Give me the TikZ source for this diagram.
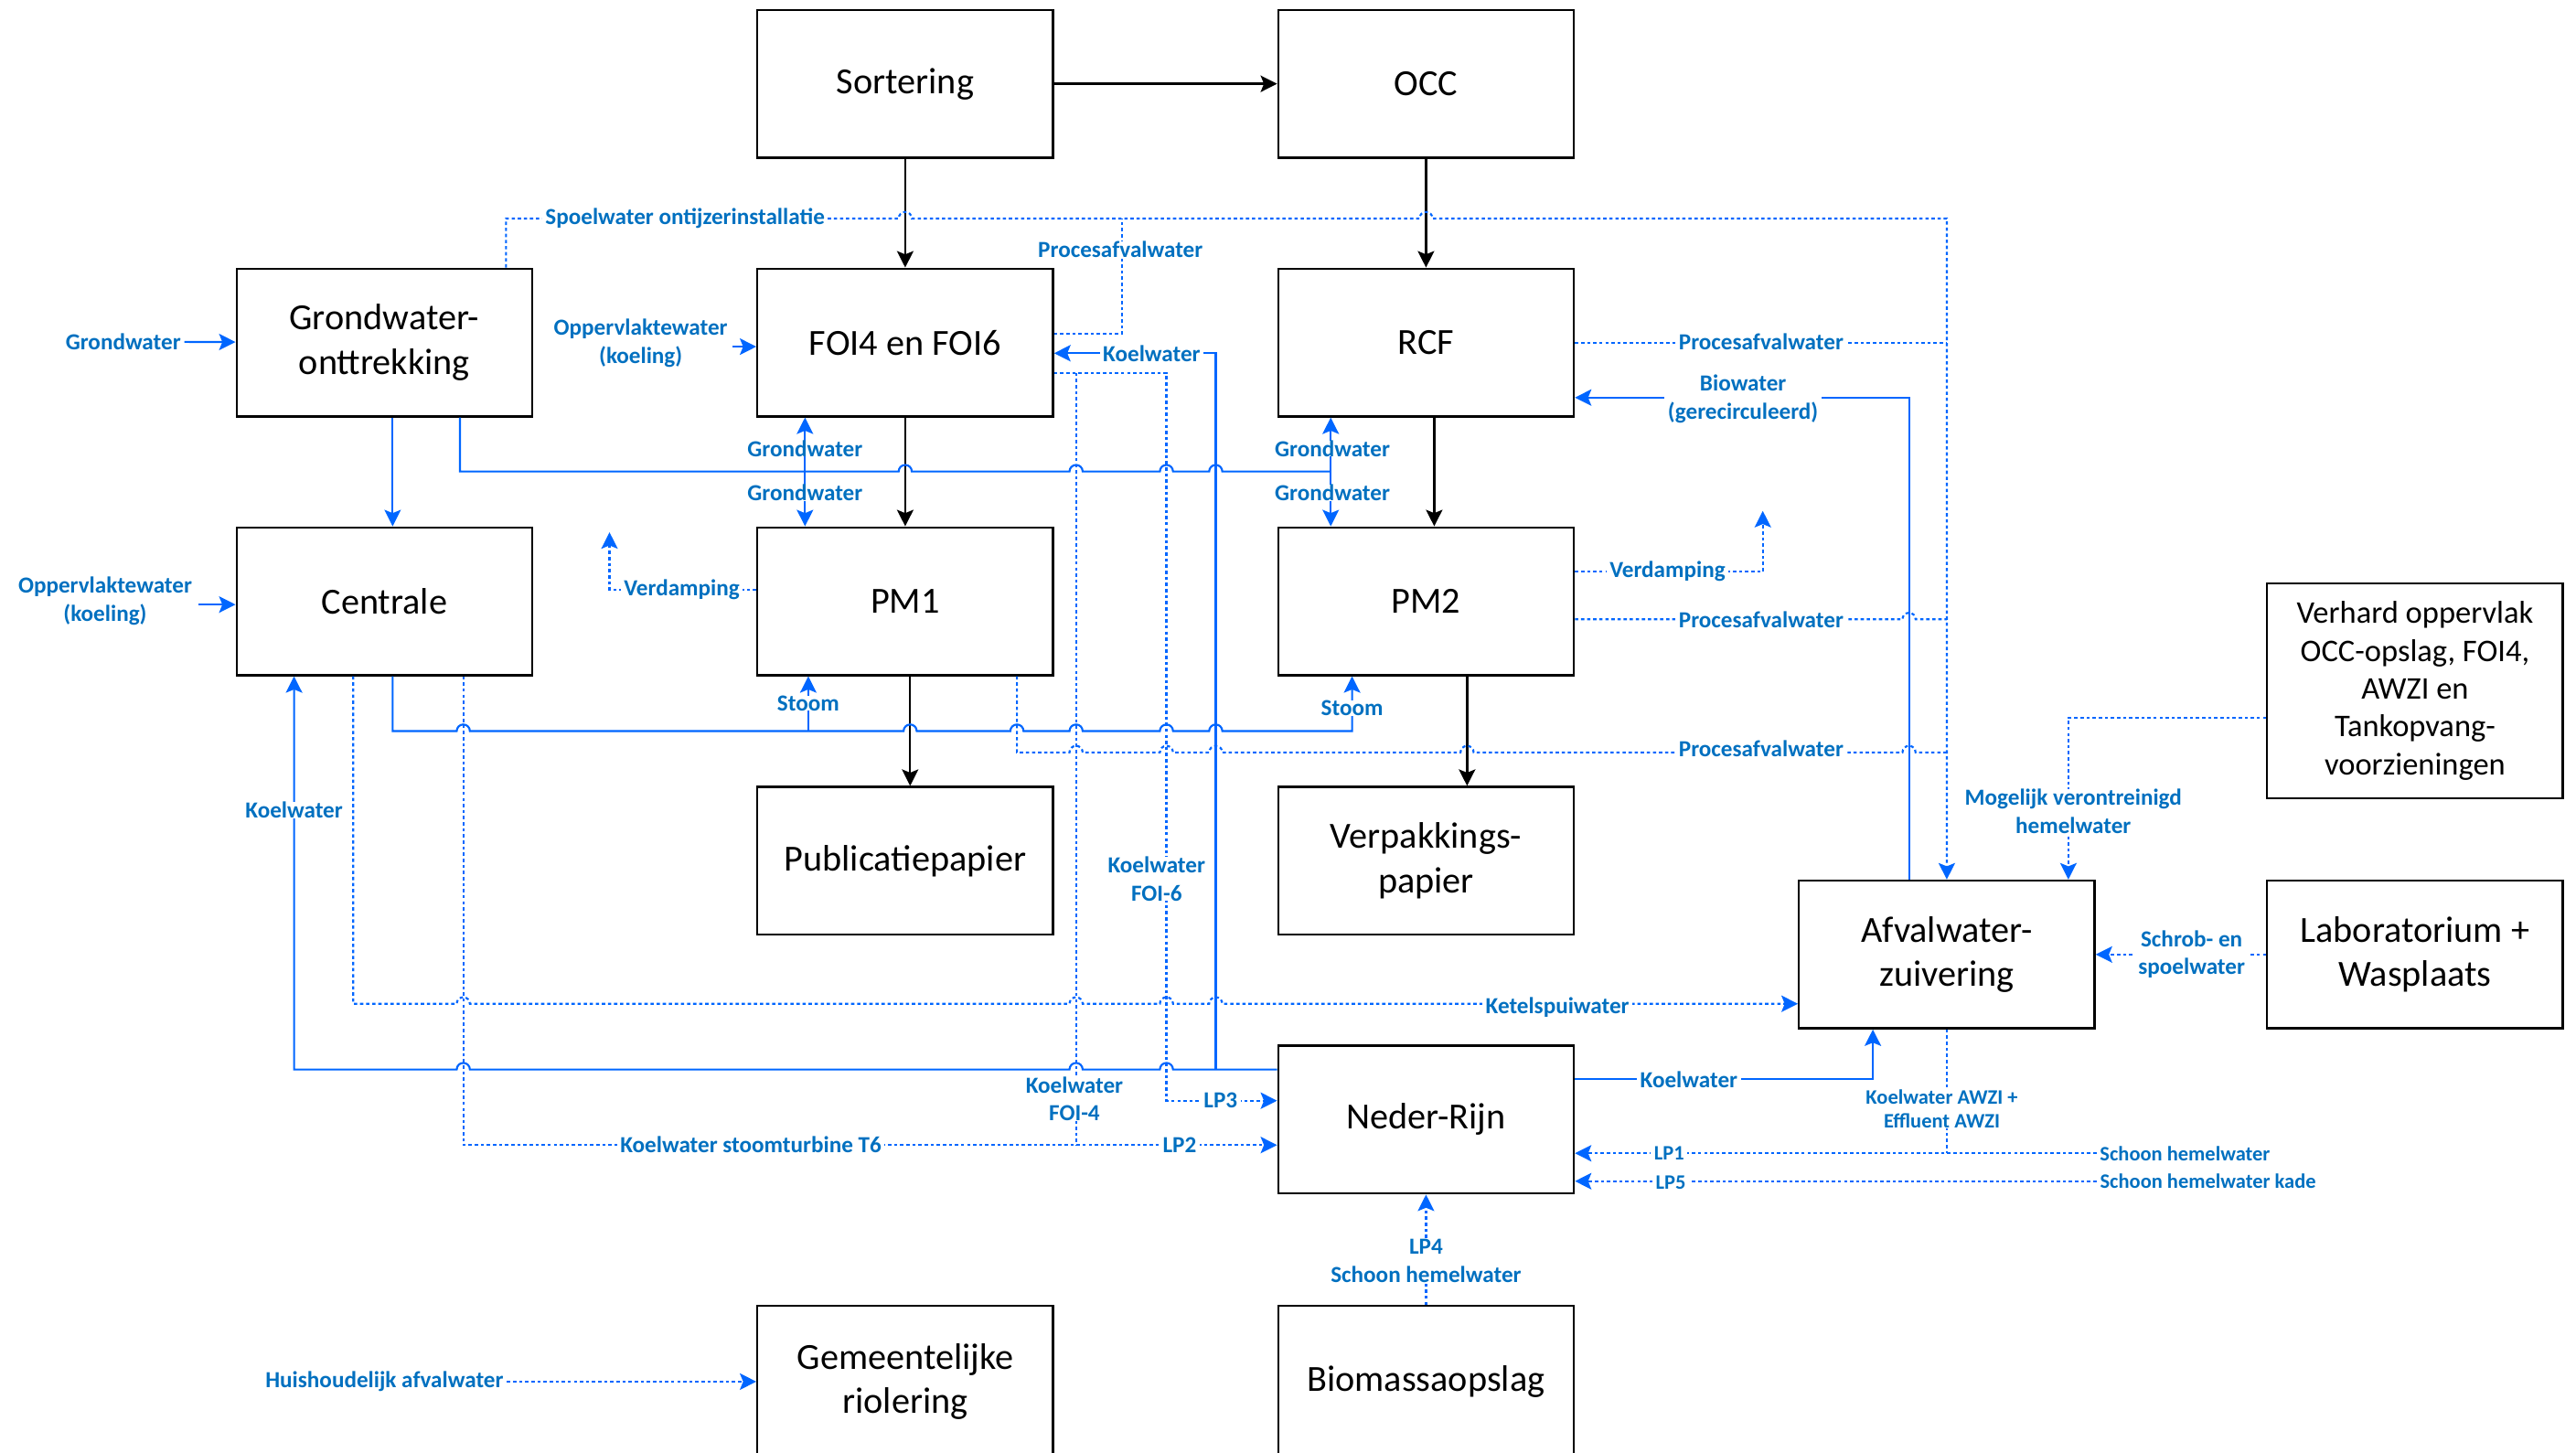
\documentclass[tikz,border=0pt]{standalone}
\usepackage{fontspec}
\setmainfont{Carlito}
\usetikzlibrary{arrows.meta}
\definecolor{lblue}{RGB}{0,102,255}
\definecolor{tblue}{RGB}{0,112,192}
\newcommand{\hr}[2]{-- (#1-4,#2) arc[start angle=180,end angle=0,radius=4pt]}
\newcommand{\hl}[2]{-- (#1+4,#2) arc[start angle=0,end angle=180,radius=4pt]}
\begin{document}
\begin{tikzpicture}[x=1pt,y=-1pt,
  box/.style={draw=black,line width=1.3pt,minimum width=180pt,minimum height=90pt,inner sep=0pt,align=center,font=\fontsize{22.4}{27}\selectfont},
  blk/.style={draw=black,line width=1.3pt,-{Stealth[length=10pt,width=10pt,inset=2pt]}},
  bl/.style={draw=lblue,line width=1.2pt},
  dt/.style={draw=lblue,line width=1.2pt,dash pattern=on 2pt off 1.7pt},
  arr/.style={-{Stealth[length=10pt,width=10pt,inset=2pt]}},
  lbl/.style={text=tblue,font=\bfseries\fontsize{14}{17}\selectfont,fill=white,inner xsep=2pt,inner ysep=0pt,align=center},
  slbl/.style={lbl,font=\bfseries\fontsize{12.5}{15}\selectfont}]
\useasboundingbox (0,0) rectangle (1568,884);

% boxes
\node[box] (sort) at (551,51) {Sortering};
\node[box] (occ) at (868,51) {OCC};
\node[box] (gwo) at (234,208.5) {Grondwater-\\onttrekking};
\node[box] (foi) at (551,208.5) {FOI4 en FOI6};
\node[box] (rcf) at (868,208.5) {RCF};
\node[box] (cen) at (234,366) {Centrale};
\node[box] (pm1) at (551,366) {PM1};
\node[box] (pm2) at (868,366) {PM2};
\node[box] (pub) at (551,524) {Publicatiepapier};
\node[box] (verp) at (868,524) {Verpakkings-\\papier};
\node[box,minimum height=131pt,font=\fontsize{19.2}{23}\selectfont] (verh) at (1470,420.5) {Verhard oppervlak\\OCC-opslag, FOI4,\\AWZI en\\Tankopvang-\\voorzieningen};
\node[box] (awzi) at (1185,581) {Afvalwater-\\zuivering};
\node[box] (lab) at (1470,581) {Laboratorium +\\Wasplaats};
\node[box] (nr) at (868,681.5) {Neder-Rijn};
\node[box,minimum height=92pt] (gem) at (551,841) {Gemeentelijke\\riolering};
\node[box,minimum height=92pt] (bio) at (868,841) {Biomassaopslag};

% black flows
\draw[blk] (sort) -- (occ);
\draw[blk] (sort) -- (foi);
\draw[blk] (occ) -- (rcf);
\draw[blk] (foi) -- (pm1);
\draw[blk] ([xshift=5pt]rcf.south) -- ([xshift=5pt]pm2.north);
\draw[blk] ([xshift=3pt]pm1.south) -- ([xshift=3pt]pub.north);
\draw[blk] ([xshift=25pt]pm2.south) -- ([xshift=25pt]verp.north);

% outside labels with arrows
\node[lbl] (lgw) at (75,208) {Grondwater};
\draw[bl,arr] (lgw) -- (gwo);
\node[lbl] (ok1) at (390,209) {Oppervlaktewater\\(koeling)};
\coordinate (ok1s) at (446,211);
\draw[bl,arr] (ok1s) -- ([yshift=-2.5pt]foi.west);
\node[lbl] (ok2) at (64,366) {Oppervlaktewater\\(koeling)};
\coordinate (ok2s) at (121,368);
\draw[bl,arr] (ok2s) -- ([yshift=-2pt]cen.west);
\node[lbl] (hh) at (234,841) {Huishoudelijk afvalwater};
\draw[dt,arr] (hh) -- (gem);
\node[slbl] (sh1) at (1330,702) {Schoon hemelwater};
\draw[dt,arr] (sh1.west) -- ([yshift=-20.5pt]nr.east);
\node[slbl] (sh5) at (1344,719) {Schoon hemelwater kade};
\draw[dt,arr] (sh5.west) -- ([yshift=-37.5pt]nr.east);

% groundwater distribution
\draw[bl,arr] ([xshift=5pt]gwo.south) -- ([xshift=5pt]cen.north);
\coordinate (g1) at (490,287);
\coordinate (g2) at (810,287);
\draw[bl] ([xshift=46pt]gwo.south) -- (280,287) \hr{551}{287}\hr{655}{287}\hr{710}{287}\hr{740}{287} -- (g2);
\draw[bl,arr] (g1) -- ([xshift=-61pt]foi.south);
\draw[bl,arr] (g1) -- ([xshift=-61pt]pm1.north);
\draw[bl,arr] (g2) -- ([xshift=-58pt]rcf.south);
\draw[bl,arr] (g2) -- ([xshift=-58pt]pm2.north);

% steam
\coordinate (s1) at (492,445);
\draw[bl,arr] ([xshift=5pt]cen.south) -- (239,445) \hr{282}{445}\hr{554}{445}\hr{619}{445}\hr{655}{445}\hr{710}{445}\hr{740}{445} -- (823,445) -- ([xshift=-45pt]pm2.south);
\draw[bl,arr] (s1) -- ([xshift=-59pt]pm1.south);

% cooling water from Neder-Rijn
\coordinate (kj) at (740,651);
\draw[bl,arr] ([yshift=30.5pt]nr.west) \hl{710}{651}\hl{655}{651}\hl{282}{651} -- (179,651) -- ([xshift=-55pt]cen.south);
\draw[bl,arr] (kj) -- (740,215) -- ([yshift=-6.5pt]foi.east);

% FOI cooling water return
\draw[dt,arr] ([yshift=-18.5pt]foi.east) -- (710,227) -- (710,670) -- ([yshift=11.5pt]nr.west);
\draw[dt] (655,227) -- (655,697);

% Centrale T6
\draw[dt,arr] ([xshift=48pt]cen.south) -- (282,697) -- ([yshift=-15.5pt]nr.west);

% Ketelspuiwater
\draw[dt,arr] ([xshift=-19pt]cen.south) -- (215,611) \hr{282}{611}\hr{655}{611}\hr{710}{611}\hr{740}{611} -- ([yshift=-30pt]awzi.west);

% process waste water
\draw[dt] ([xshift=68pt]pm1.south) -- (619,458) \hr{655}{458}\hr{710}{458}\hr{740}{458}\hr{893}{458}\hr{1162}{458} -- (1185,458);
\draw[dt,arr] ([xshift=74pt]gwo.north) -- (308,133) \hr{551}{133}\hr{868}{133} -- (1185,133) -- (awzi.north);
\draw[dt] ([yshift=5.5pt]foi.east) -- (683,203) -- (683,133);
\draw[dt] (rcf.east) -- (1185,208.5);
\draw[dt] ([yshift=-11pt]pm2.east) \hr{1162}{377} -- (1185,377);

% evaporation
\coordinate (v2) at (1073,311);
\draw[dt,arr] ([yshift=18pt]pm2.east) -- (1073,348) -- (v2);
\coordinate (v1) at (371,324);
\draw[dt,arr] ([yshift=7pt]pm1.west) -- (371,359) -- (v1);

% biowater
\draw[bl,arr] ([xshift=-23pt]awzi.north) -- (1162,242) -- ([yshift=-33.5pt]rcf.east);

% rain water / lab
\draw[dt,arr] ([yshift=-16.5pt]verh.west) -- (1259,437) -- ([xshift=74pt]awzi.north);
\draw[dt,arr] (lab.west) -- (awzi.east);

% Neder-Rijn cooling to AWZI
\draw[bl,arr] ([yshift=24.5pt]nr.east) -- (1140,657) -- ([xshift=-45pt]awzi.south);
\draw[dt] (awzi.south) -- (1185,702);
\draw[dt,arr] (bio.north) -- (nr.south);

% labels on lines
\node[lbl] at (417,133) {Spoelwater ontijzerinstallatie};
\node[lbl] at (682,152) {Procesafvalwater};
\node[lbl] at (701,215) {Koelwater};
\node[lbl] at (1072,208) {Procesafvalwater};
\node[lbl] at (1061,243) {Biowater\\(gerecirculeerd)};
\node[lbl] at (490,273) {Grondwater};
\node[lbl] at (490,300) {Grondwater};
\node[lbl] at (811,273) {Grondwater};
\node[lbl] at (811,300) {Grondwater};
\node[lbl] at (415,359) {Verdamping};
\node[lbl] at (1015,348) {Verdamping};
\node[lbl] at (1072,377) {Procesafvalwater};
\node[lbl] at (492,428) {Stoom};
\node[lbl] at (823,431) {Stoom};
\node[lbl] at (1072,456) {Procesafvalwater};
\node[lbl] at (1262,494) {Mogelijk verontreinigd\\hemelwater};
\node[lbl] at (179,493) {Koelwater};
\node[lbl] at (704,535) {Koelwater\\FOI-6};
\node[lbl] at (1334,581) {Schrob- en\\spoelwater};
\node[lbl] at (948,613) {Ketelspuiwater};
\node[lbl] at (1028,657) {Koelwater};
\node[lbl] at (654,669) {Koelwater\\FOI-4};
\node[lbl] at (743,670) {LP3};
\node[lbl] at (457,697) {Koelwater stoomturbine T6};
\node[lbl] at (718,697) {LP2};
\node[slbl] at (1182,675) {Koelwater AWZI +\\Effluent AWZI};
\node[slbl] at (1016,702) {LP1};
\node[slbl] at (1017,720) {LP5};
\node[lbl] at (868,767.5) {LP4\\Schoon hemelwater};
\end{tikzpicture}
\end{document}
